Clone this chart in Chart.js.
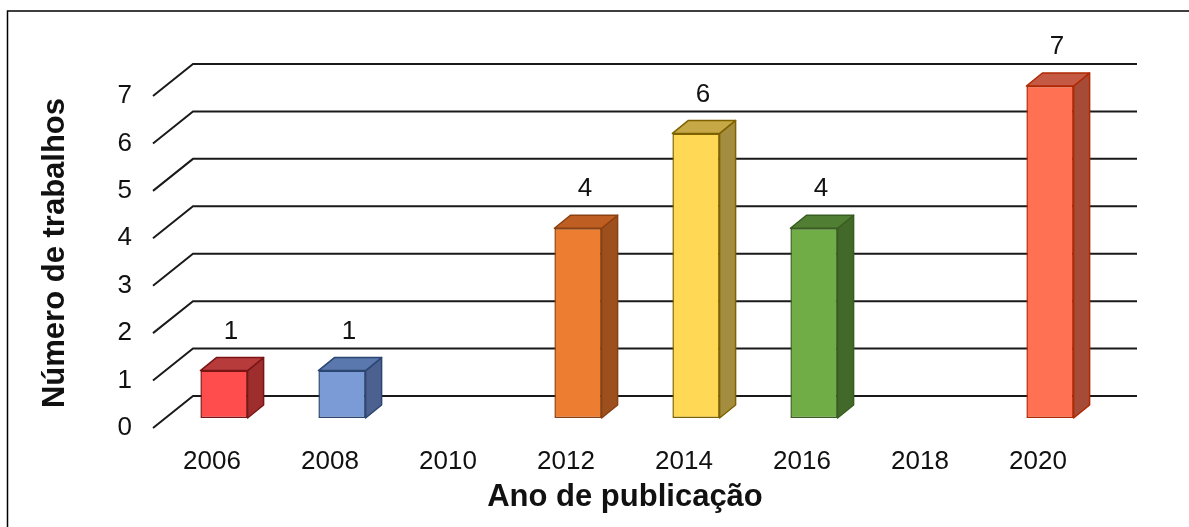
<!DOCTYPE html>
<html lang="pt-BR">
<head>
    <meta charset="UTF-8">
    <title>Número de trabalhos por ano</title>
    <style>
        body { margin: 0; background: #fff; }
        canvas { display: block; }
    </style>
    <script src="https://cdn.jsdelivr.net/npm/chart.js"></script>
</head>
<body>
    <canvas id="grafico" width="1189" height="527"></canvas>

    <script>
        // Dados do gráfico
        const anos = ['2006', '2008', '2010', '2012', '2014', '2016', '2018', '2020'];
        const trabalhos = [1, 1, 0, 4, 6, 4, 0, 7];
        const marcasY = [0, 1, 2, 3, 4, 5, 6, 7];
        const tituloY = 'Número de trabalhos';

        // Cores das barras (frente, topo, lateral, borda)
        const corFrente  = ['#FF4D4D', '#7B9BD6', '#999', '#ED7D31', '#FFD955', '#70AD47', '#999', '#FF7152'];
        const corTopo    = ['#B83B3B', '#5B78AE', '#777', '#BF5E22', '#C6A846', '#507E33', '#777', '#C45A44'];
        const corLateral = ['#9E2E2E', '#4C6190', '#666', '#9E4F1E', '#A48D3E', '#43692A', '#666', '#A64B38'];
        const corBorda   = ['#7A1515', '#2B4670', '#555', '#8A4010', '#7F6200', '#385D20', '#555', '#B02800'];

        // Perspectiva
        const FUNDO_X = 40, FUNDO_Y = 32;   // parede do fundo
        const BARRA_X = 12, BARRA_Y = 10;   // deslocamento da face frontal
        const PROF_X = 16, PROF_Y = 13;     // profundidade da barra

        const fonte = '"Liberation Sans", Arial, sans-serif';

        const efeito3d = {
            id: 'efeito3d',
            beforeDatasetsDraw(chart) {
                const { ctx, chartArea, scales: { y } } = chart;
                ctx.save();
                ctx.strokeStyle = '#1a1a1a';
                ctx.lineWidth = 2;
                marcasY.forEach(v => {
                    const yf = y.getPixelForValue(v);
                    ctx.beginPath();
                    ctx.moveTo(chartArea.left, yf);
                    ctx.lineTo(chartArea.left + FUNDO_X, yf - FUNDO_Y);
                    ctx.lineTo(chartArea.right + FUNDO_X, yf - FUNDO_Y);
                    ctx.stroke();
                });
                ctx.restore();
                ctx.save();
                ctx.translate(BARRA_X, -BARRA_Y);
            },
            afterDatasetsDraw(chart) {
                const { ctx } = chart;
                ctx.restore();
                const meta = chart.getDatasetMeta(0);
                meta.data.forEach((el, i) => {
                    if (!trabalhos[i]) return;
                    const w = el.width;
                    const x0 = el.x - w / 2 + BARRA_X, x1 = x0 + w;
                    const yt = el.y - BARRA_Y, yb = el.base - BARRA_Y;
                    ctx.save();
                    ctx.lineWidth = 1.5;
                    ctx.strokeStyle = corBorda[i];
                    ctx.lineJoin = 'round';
                    // lateral
                    ctx.beginPath();
                    ctx.moveTo(x1, yt);
                    ctx.lineTo(x1 + PROF_X, yt - PROF_Y);
                    ctx.lineTo(x1 + PROF_X, yb - PROF_Y);
                    ctx.lineTo(x1, yb);
                    ctx.closePath();
                    ctx.fillStyle = corLateral[i];
                    ctx.fill();
                    ctx.stroke();
                    // topo
                    ctx.beginPath();
                    ctx.moveTo(x0, yt);
                    ctx.lineTo(x0 + PROF_X, yt - PROF_Y);
                    ctx.lineTo(x1 + PROF_X, yt - PROF_Y);
                    ctx.lineTo(x1, yt);
                    ctx.closePath();
                    ctx.fillStyle = corTopo[i];
                    ctx.fill();
                    ctx.stroke();
                    // rótulo
                    ctx.fillStyle = '#111';
                    ctx.font = '26px ' + fonte;
                    ctx.textAlign = 'center';
                    ctx.textBaseline = 'middle';
                    ctx.fillText(String(trabalhos[i]), el.x + BARRA_X + 7, yt - PROF_Y - 26);
                    ctx.restore();
                });
            },
            afterDraw(chart) {
                const { ctx } = chart;
                ctx.save();
                // título do eixo Y
                ctx.translate(55, 253);
                ctx.rotate(-Math.PI / 2);
                ctx.fillStyle = '#111';
                ctx.font = 'bold 31px ' + fonte;
                ctx.textAlign = 'center';
                ctx.textBaseline = 'middle';
                ctx.fillText(tituloY, 0, 0);
                ctx.restore();

                // moldura
                ctx.save();
                ctx.strokeStyle = '#000';
                ctx.lineWidth = 1.5;
                ctx.beginPath();
                ctx.moveTo(7.5, 527);
                ctx.lineTo(7.5, 11);
                ctx.lineTo(1189, 11);
                ctx.stroke();
                ctx.restore();
            }
        };

        new Chart(document.getElementById('grafico'), {
            type: 'bar',
            data: {
                labels: anos,
                datasets: [{
                    label: tituloY,
                    data: trabalhos,
                    backgroundColor: corFrente,
                    borderColor: corBorda,
                    borderWidth: c => (c.raw ? 1.5 : 0),
                    borderSkipped: false,
                    categoryPercentage: 1,
                    barPercentage: 0.4,
                    clip: false
                }]
            },
            options: {
                responsive: false,
                animation: false,
                layout: { padding: { left: 36, right: 92, top: 96, bottom: 11 } },
                plugins: { legend: { display: false }, tooltip: { enabled: false } },
                scales: {
                    x: {
                        grid: { display: false, drawTicks: false },
                        border: { display: false },
                        ticks: { color: '#111', font: { family: fonte, size: 26 }, padding: 18 },
                        title: {
                            display: true, text: 'Ano de publicação', color: '#111',
                            font: { family: fonte, size: 31, weight: 'bold' }, padding: 0
                        },
                        afterFit: s => { s.height = 88; }
                    },
                    y: {
                        min: 0, max: 7,
                        grid: { display: false, drawTicks: false },
                        border: { display: false },
                        ticks: { stepSize: 1, color: '#111', font: { family: fonte, size: 26 }, padding: 21 },
                        afterFit: s => { s.width = 117; }
                    }
                }
            },
            plugins: [efeito3d]
        });
    </script>
</body>
</html>
